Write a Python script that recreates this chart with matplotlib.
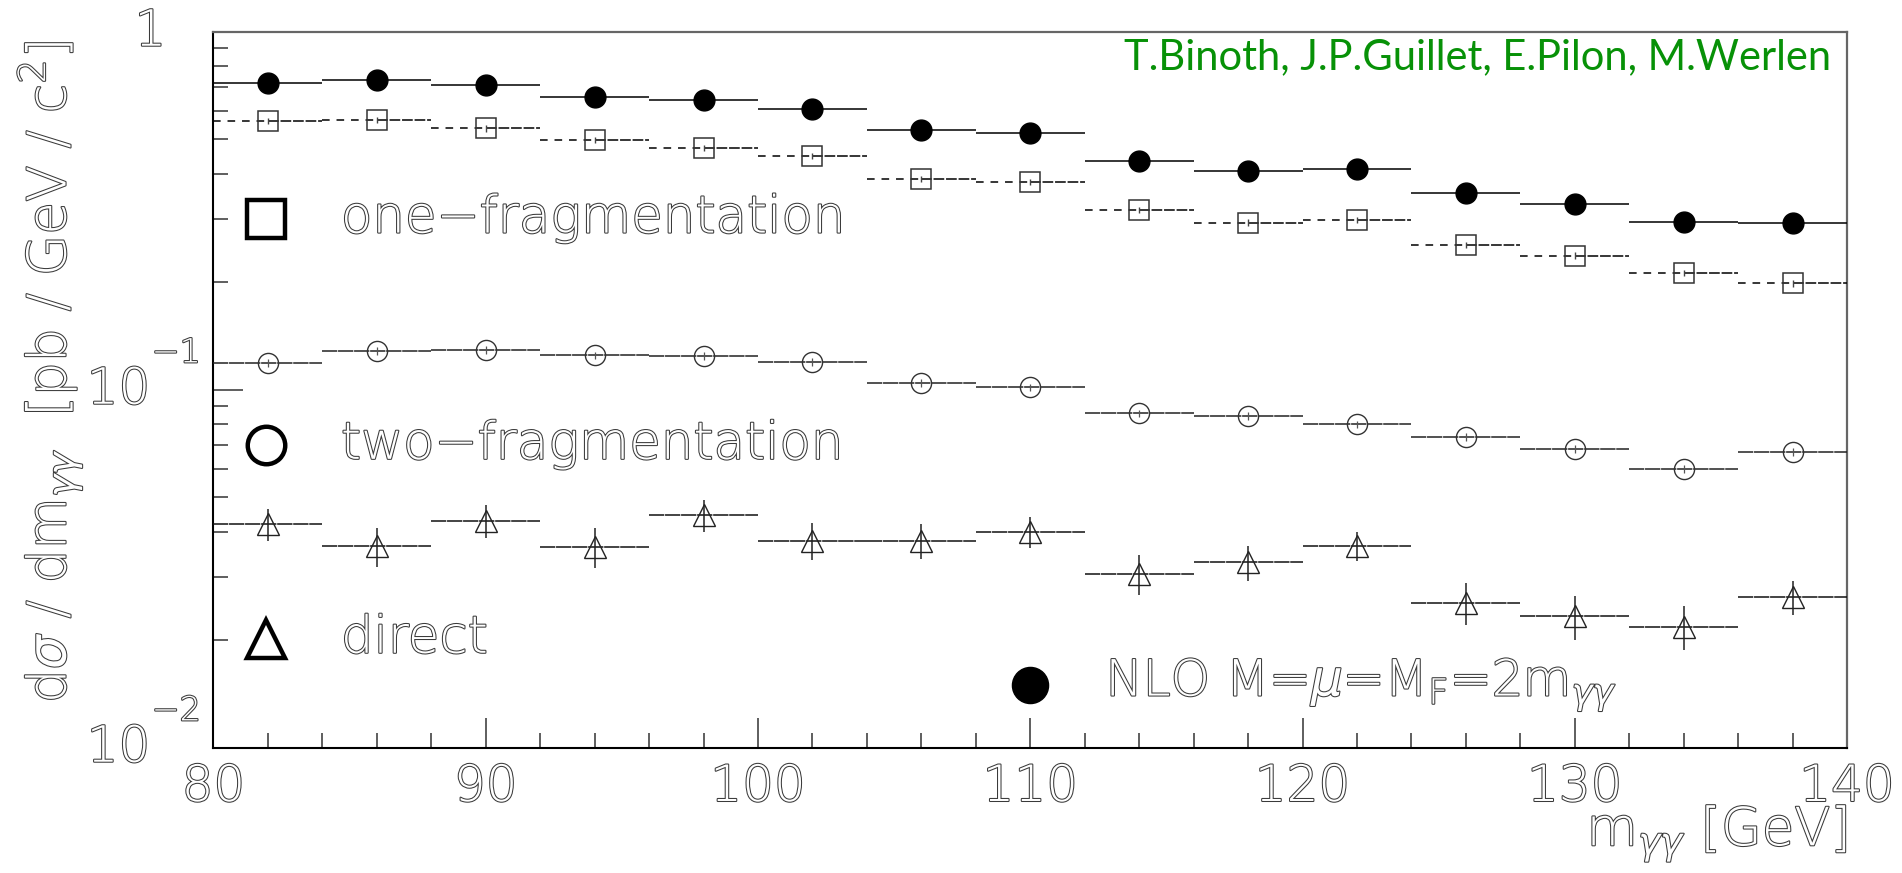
import numpy as np
import matplotlib
matplotlib.use("Agg")
import matplotlib.pyplot as plt
from matplotlib import patheffects as pe
from matplotlib.ticker import FixedLocator, MultipleLocator, LogLocator, NullFormatter

# ---------------------------------------------------------------- data
mass_edges = [80, 84, 88, 92, 96, 100, 104, 108, 112, 116, 120, 124, 128, 132, 136, 140]

nlo = [0.720, 0.733, 0.710, 0.658, 0.644, 0.607, 0.531, 0.522,
       0.434, 0.409, 0.414, 0.354, 0.330, 0.294, 0.292]

one_frag = [0.563, 0.567, 0.537, 0.498, 0.474, 0.450, 0.388, 0.380,
            0.318, 0.293, 0.298, 0.254, 0.237, 0.212, 0.198]
one_frag_err = [0.011, 0.011, 0.011, 0.010, 0.009, 0.009, 0.008, 0.008,
                0.006, 0.006, 0.006, 0.005, 0.005, 0.004, 0.004]

two_frag = [0.1185, 0.1283, 0.1291, 0.1248, 0.1242, 0.1197, 0.1046, 0.1015,
            0.0859, 0.0844, 0.0800, 0.0739, 0.0683, 0.0600, 0.0669]
two_frag_err = [0.0030, 0.0030, 0.0030, 0.0030, 0.0030, 0.0030, 0.0026, 0.0025,
                0.0021, 0.0021, 0.0020, 0.0018, 0.0017, 0.0015, 0.0017]

direct = [0.0421, 0.0366, 0.0431, 0.0364, 0.0446, 0.0379, 0.0379, 0.0401,
          0.0306, 0.0330, 0.0366, 0.0254, 0.0233, 0.0218, 0.0264]
direct_err = [0.0042, 0.0046, 0.0046, 0.0047, 0.0045, 0.0044, 0.0042, 0.0040,
              0.0039, 0.0037, 0.0034, 0.0034, 0.0033, 0.0031, 0.0029]

x_ticks = [80, 90, 100, 110, 120, 130, 140]
x_tick_labels = ["80", "90", "100", "110", "120", "130", "140"]
y_tick_values = [1.0, 0.1, 0.01]
y_tick_base = ["1", "10", "10"]
y_tick_exp = ["", "\u22121", "\u22122"]

authors = "T.Binoth, J.P.Guillet, E.Pilon, M.Werlen"

# ---------------------------------------------------------------- style
plt.rcParams["font.family"] = ["DejaVu Sans"]
plt.rcParams["font.weight"] = 200
plt.rcParams["mathtext.fontset"] = "dejavusans"

ink = "#3a3a3a"
outline = [pe.withStroke(linewidth=1.5, foreground=ink)]


def hollow(**kw):
    """Outlined (double-stroke) lettering."""
    return dict(color="white", path_effects=outline, fontweight=200, **kw)


fig = plt.figure(figsize=(19.02, 8.73), dpi=100)
ax = fig.add_axes([0.11225, 0.14353, 0.85884, 0.82016])
ax.set_yscale("log")
ax.set_xlim(80, 140)
ax.set_ylim(0.01, 1.0)

edges = np.asarray(mass_edges, dtype=float)
lo, hi = edges[:-1], edges[1:]
centers = 0.5 * (lo + hi)

# NLO total: solid bin lines + filled circles
ax.hlines(nlo, lo, hi, colors="black", linewidth=1.1, zorder=3)
ax.plot(centers, nlo, linestyle="none", marker="o", markersize=15,
        color="black", zorder=5)

# one-fragmentation: dashed left half, nearly solid right half, open squares
ax.hlines(one_frag, lo, centers, colors="black", linewidth=1.1,
          linestyles=[(0, (5, 4.5))], zorder=3)
ax.hlines(one_frag, centers, hi, colors="black", linewidth=1.1,
          linestyles=[(0, (7, 1.2))], zorder=3)
ax.errorbar(centers, one_frag, yerr=one_frag_err, fmt="none",
            ecolor="#444444", elinewidth=1.0, zorder=4)
ax.plot(centers, one_frag, linestyle="none", marker="s", markersize=15,
        markerfacecolor="none", markeredgecolor="#333333",
        markeredgewidth=1.1, zorder=5)

# two-fragmentation: fine bin lines, open circles
ax.hlines(two_frag, lo, hi, colors="#222222", linewidth=1.1,
          linestyles=[(0, (10, 0.5))], zorder=3)
ax.errorbar(centers, two_frag, yerr=two_frag_err, fmt="none",
            ecolor="#555555", elinewidth=0.9, zorder=4)
ax.plot(centers, two_frag, linestyle="none", marker="o", markersize=14.5,
        markerfacecolor="none", markeredgecolor="#333333",
        markeredgewidth=1.0, zorder=5)

# direct: fine bin lines, open triangles with error bars
ax.hlines(direct, lo, hi, colors="#111111", linewidth=1.1,
          linestyles=[(0, (10, 0.5))], zorder=3)
ax.errorbar(centers, direct, yerr=direct_err, fmt="none",
            ecolor="#222222", elinewidth=1.1, zorder=4)
ax.plot(centers, direct, linestyle="none", marker="^", markersize=15.5,
        markerfacecolor="none", markeredgecolor="#222222",
        markeredgewidth=1.0, zorder=5)

# ---------------------------------------------------------------- axes frame
for side in ("left", "bottom"):
    ax.spines[side].set_color("black")
    ax.spines[side].set_linewidth(1.5)
for side in ("top", "right"):
    ax.spines[side].set_color("#666666")
    ax.spines[side].set_linewidth(1.6)

ax.xaxis.set_major_locator(FixedLocator(x_ticks))
ax.xaxis.set_minor_locator(MultipleLocator(2))
ax.set_xticklabels(x_tick_labels)
ax.yaxis.set_major_locator(FixedLocator(y_tick_values))
ax.yaxis.set_minor_locator(LogLocator(base=10, subs=np.arange(2, 10)))
ax.yaxis.set_minor_formatter(NullFormatter())
ax.set_yticklabels(["" for _ in y_tick_values])

ax.tick_params(which="both", direction="in", top=False, right=False,
               color="#333333", width=1.1)
ax.tick_params(which="major", length=21.6)
ax.tick_params(which="minor", length=10.8)
ax.tick_params(axis="x", which="major", pad=11, labelsize=36)
for lab in ax.get_xticklabels():
    lab.set_color("white")
    lab.set_fontweight(200)
    lab.set_path_effects(outline)

# y tick labels written as base + raised exponent
for val, base, exp in zip(y_tick_values, y_tick_base, y_tick_exp):
    xoff = -34 if not exp else -45.5
    ax.annotate(base, xy=(0, val), xycoords=("axes fraction", "data"),
                xytext=(xoff, 0), textcoords="offset points",
                ha="right", va="center", fontsize=36, **hollow())
    if exp:
        ax.annotate(exp, xy=(0, val), xycoords=("axes fraction", "data"),
                    xytext=(-44.5, 26.5), textcoords="offset points",
                    ha="left", va="center", fontsize=24, **hollow())

# axis titles
fig.text(50 / 1902, 1 - 372 / 873,
         r"d$\sigma$ / dm$_{\gamma\gamma}$  [pb / GeV / c$^{2}$]",
         rotation=90, ha="center", va="center", fontsize=38.5, **hollow())
fig.text(1847 / 1902, 1 - 833 / 873, r"m$_{\gamma\gamma}$ [GeV]",
         ha="right", va="center", fontsize=38, **hollow())

# ---------------------------------------------------------------- legend
key_x = 0.0324
text_x = 0.078
entries = [
    (0.739, "s", "one\u2212fragmentation"),
    (0.423, "o", "two\u2212fragmentation"),
    (0.1525, "^", "direct"),
]
for ypos, mk, label in entries:
    ax.plot([key_x], [ypos], transform=ax.transAxes, marker=mk,
            markersize=27, markerfacecolor="none", markeredgecolor="black",
            markeredgewidth=3.2, linestyle="none", clip_on=False, zorder=6)
    ax.text(text_x, ypos, label, transform=ax.transAxes, ha="left",
            va="center", fontsize=37, **hollow())

ax.plot([0.4998], [0.0876], transform=ax.transAxes, marker="o",
        markersize=26, color="black", linestyle="none", zorder=6)
ax.text(0.546, 0.0876, r"NLO M=$\mu$=M$_{\mathrm{F}}$=2m$_{\gamma\gamma}$",
        transform=ax.transAxes, ha="left", va="center", fontsize=36,
        **hollow())

ax.text(0.990, 0.948, authors, transform=ax.transAxes, ha="right",
        va="baseline", fontsize=30, color="#079107", fontweight="normal",
        family=["Lato", "DejaVu Sans"])

fig.savefig("out.png", dpi=100, facecolor="white")
